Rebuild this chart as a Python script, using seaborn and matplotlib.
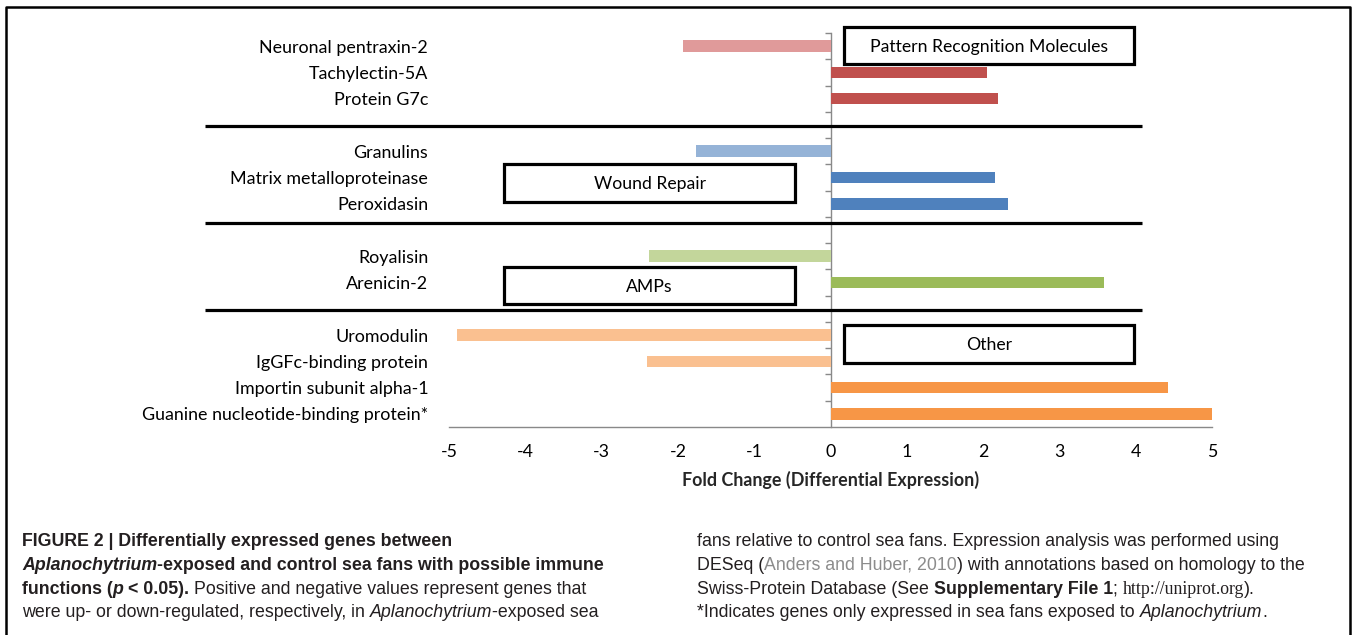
import matplotlib
matplotlib.use("Agg")
import matplotlib.pyplot as plt
import seaborn as sns
import pandas as pd
from matplotlib.patches import Rectangle
from matplotlib.lines import Line2D

# genes with possible immune functions, top to bottom
genes = [
    "Neuronal pentraxin-2", "Tachylectin-5A", "Protein G7c",
    "Granulins", "Matrix metalloproteinase", "Peroxidasin",
    "Royalisin", "Arenicin-2",
    "Uromodulin", "IgGFc-binding protein", "Importin subunit alpha-1",
    "Guanine nucleotide-binding protein*",
]
fold_change = [-1.93, 2.05, 2.20, -1.76, 2.16, 2.33, -2.38, 3.58, -4.90, -2.40, 4.42, 5.00]
groups = (["Pattern Recognition Molecules"] * 3 + ["Wound Repair"] * 3
          + ["AMPs"] * 2 + ["Other"] * 4)
# rows of the y axis; blank entries are the empty rows between groups
row_order = genes[0:3] + [" "] + genes[3:6] + ["  "] + genes[6:8] + ["   "] + genes[8:]
x_ticks = [-5, -4, -3, -2, -1, 0, 1, 2, 3, 4, 5]

# (down-regulated, up-regulated) colours per group
group_colors = {
    "Pattern Recognition Molecules": ("#E09A9A", "#C0504D"),
    "Wound Repair": ("#95B3D7", "#4F81BD"),
    "AMPs": ("#C3D69B", "#9BBB59"),
    "Other": ("#FAC090", "#F79646"),
}

df = pd.DataFrame({"gene": genes, "fold_change": fold_change, "group": groups})
bar_colors = {
    g: group_colors[grp][0] if v < 0 else group_colors[grp][1]
    for g, v, grp in zip(genes, fold_change, groups)
}

W, H = 1354, 635
sns.set_style("white")
plt.rcParams["font.family"] = ["Lato", "DejaVu Sans"]

fig = plt.figure(figsize=(W / 100, H / 100), dpi=100)
ax = fig.add_axes([449 / W, 1 - 427 / H, 763 / W, 394 / H])

sns.barplot(
    data=df, x="fold_change", y="gene", hue="gene", order=row_order,
    palette=bar_colors, saturation=1, width=0.44, linewidth=0, errorbar=None,
    legend=False, orient="h", ax=ax,
)

grey = "#898989"
ax.set_xlim(-5, 5)
ax.set_ylim(len(row_order) - 0.5, -0.5)
ax.set_xticks(x_ticks)
ax.set_xticklabels([str(t) for t in x_ticks])
ax.set_xlabel("Fold Change (Differential Expression)", fontsize=12.9,
              fontweight="bold", labelpad=8)
ax.set_ylabel("")
for side in ["top", "right", "left"]:
    ax.spines[side].set_visible(False)
ax.spines["bottom"].set_color(grey)
ax.spines["bottom"].set_linewidth(1)
ax.tick_params(axis="x", direction="out", length=5, width=1, color=grey,
               pad=7, labelsize=12.8, labelcolor="black")
ax.tick_params(axis="y", length=0, pad=15, labelsize=12.9, labelcolor="black")

# zero line with category tick marks
sec = ax.secondary_yaxis(0.5)
sec.set_alignment("left")
sec.set_yticks([i - 0.5 for i in range(len(row_order))])
sec.set_yticklabels([])
sec.spines["left"].set_color(grey)
sec.spines["left"].set_linewidth(1)
sec.tick_params(axis="y", direction="out", length=4, width=1, color=grey)

# group separators
for y in [3.04, 6.75, 10.04]:
    ax.plot([-8.2, 4.08], [y, y], color="black", lw=2.3, clip_on=False,
            solid_capstyle="butt", zorder=4)

# group boxes
boxes = [
    ("Pattern Recognition Molecules", 0.18, -0.73, 3.80, 1.41),
    ("Wound Repair", -4.28, 4.49, 3.82, 1.43),
    ("AMPs", -4.28, 8.41, 3.82, 1.41),
    ("Other", 0.18, 10.62, 3.80, 1.44),
]
for title, bx, by, bw, bh in boxes:
    ax.add_patch(Rectangle((bx, by), bw, bh, facecolor="white", edgecolor="black",
                           lw=2.3, clip_on=False, zorder=5))
    ax.text(bx + bw / 2, by + bh / 2, title, ha="center", va="center_baseline",
            fontsize=12.7, color="black", zorder=6, clip_on=False)

# outer frame
fig.add_artist(Line2D([6 / W, 6 / W, 1350 / W, 1350 / W], [0, 1 - 7 / H, 1 - 7 / H, 0],
                      color="black", lw=1.8, transform=fig.transFigure))

# caption
cap = "#231F20"
reg = dict(family=["Liberation Sans", "DejaVu Sans"], fontsize=12.8, color=cap)
ital = dict(reg, fontstyle="italic")
bold = dict(reg, fontweight="bold")
bital = dict(bold, fontstyle="italic")
gray = dict(reg, color="#8C8C8C")
serif = dict(reg, family=["Liberation Serif"])

renderer = fig.canvas.get_renderer()
t1 = fig.text(0, 0, "a a", **reg)
t2 = fig.text(0, 0, "aa", **reg)
space_w = t1.get_window_extent(renderer).width - t2.get_window_extent(renderer).width
t1.remove()
t2.remove()


def rich_line(x, y, pieces):
    for s, style in pieces:
        lead = len(s) - len(s.lstrip(" "))
        trail = len(s) - len(s.rstrip(" "))
        x += lead * space_w
        t = fig.text(x / W, 1 - y / H, s.strip(" "), ha="left", va="baseline", **style)
        x += t.get_window_extent(renderer).width + trail * space_w


left_lines = [
    [("FIGURE 2 | Differentially expressed genes between", bold)],
    [("Aplanochytrium", bital), ("-exposed and control sea fans with possible immune", bold)],
    [("functions (", bold), ("p", bital), (" < 0.05).", bold),
     (" Positive and negative values represent genes that", reg)],
    [("were up- or down-regulated, respectively, in ", reg), ("Aplanochytrium", ital),
     ("-exposed sea", reg)],
]
right_lines = [
    [("fans relative to control sea fans. Expression analysis was performed using", reg)],
    [("DESeq (", reg), ("Anders and Huber, 2010", gray),
     (") with annotations based on homology to the", reg)],
    [("Swiss-Protein Database (See ", reg), ("Supplementary File 1", bold), ("; ", reg),
     ("http://uniprot.org", serif), (").", reg)],
    [("*Indicates genes only expressed in sea fans exposed to ", reg),
     ("Aplanochytrium", ital), (".", reg)],
]
for i, line in enumerate(left_lines):
    rich_line(22, 546 + 23.8 * i, line)
for i, line in enumerate(right_lines):
    rich_line(697, 546 + 23.8 * i, line)

fig.savefig("out.png", dpi=100)
